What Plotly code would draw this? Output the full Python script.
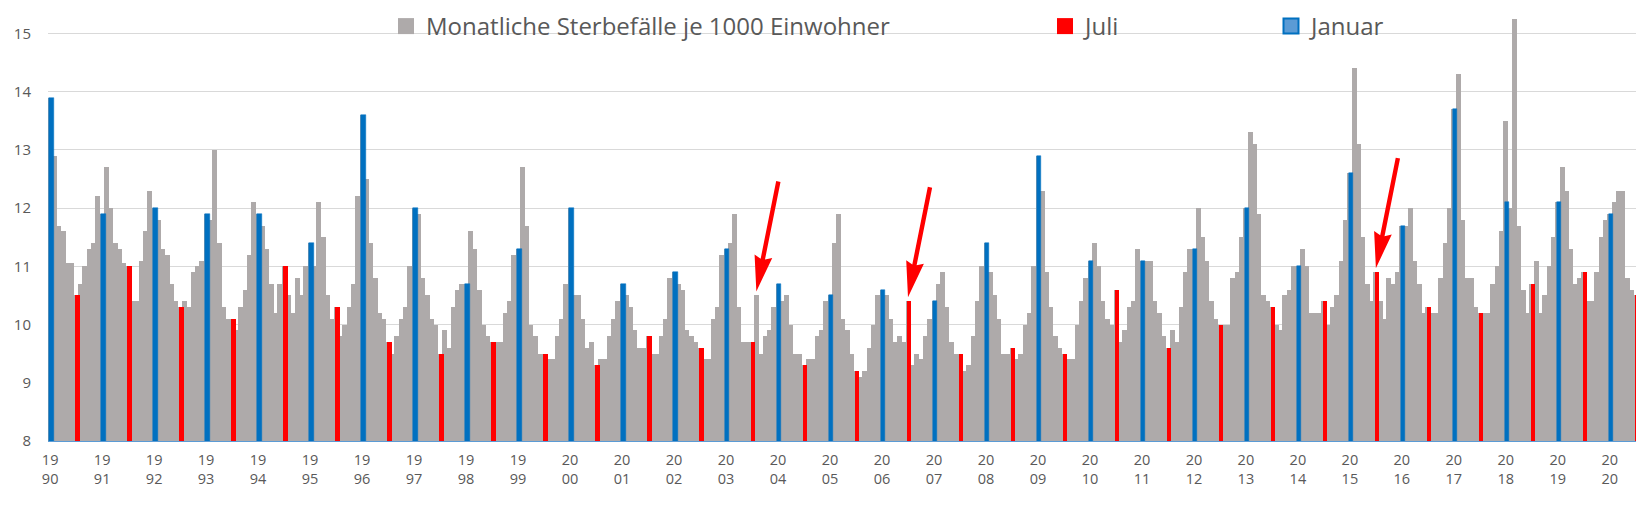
import math
import plotly.graph_objects as go

# ---------------- data (monthly deaths per 1000 inhabitants, Jan..Dec) ----------------
r1990 = [13.9, 12.9, 11.7, 11.6, 11.05, 11.05, 10.5, 10.7, 11.0, 11.3, 11.4, 12.2]
r1991 = [11.9, 12.7, 12.0, 11.4, 11.3, 11.05, 11.0, 10.4, 10.4, 11.1, 11.6, 12.3]
r1992 = [12.0, 11.8, 11.3, 11.2, 10.7, 10.4, 10.3, 10.4, 10.3, 10.9, 11.0, 11.1]
r1993 = [11.9, 11.8, 13.0, 11.4, 10.3, 10.1, 10.1, 9.9, 10.3, 10.6, 11.2, 12.1]
r1994 = [11.9, 11.7, 11.3, 10.7, 10.2, 10.7, 11.0, 10.5, 10.2, 10.8, 10.5, 11.0]
r1995 = [11.4, 11.0, 12.1, 11.5, 10.5, 10.1, 10.3, 9.8, 10.0, 10.3, 10.7, 12.2]
r1996 = [13.6, 12.5, 11.4, 10.8, 10.2, 10.1, 9.7, 9.5, 9.8, 10.1, 10.3, 11.0]
r1997 = [12.0, 11.9, 10.8, 10.5, 10.1, 10.0, 9.5, 9.9, 9.6, 10.3, 10.6, 10.7]
r1998 = [10.7, 11.6, 11.3, 10.6, 10.0, 9.8, 9.7, 9.7, 9.7, 10.2, 10.4, 11.2]
r1999 = [11.3, 12.7, 11.7, 10.0, 9.8, 9.5, 9.5, 9.4, 9.4, 9.8, 10.1, 10.7]
r2000 = [12.0, 10.5, 10.5, 10.1, 9.6, 9.7, 9.3, 9.4, 9.4, 9.8, 10.1, 10.4]
r2001 = [10.7, 10.5, 10.3, 9.9, 9.6, 9.6, 9.8, 9.5, 9.5, 9.8, 10.1, 10.8]
r2002 = [10.9, 10.7, 10.6, 9.9, 9.8, 9.7, 9.6, 9.4, 9.4, 10.1, 10.3, 11.2]
r2003 = [11.3, 11.4, 11.9, 10.3, 9.7, 9.7, 9.7, 10.5, 9.5, 9.8, 9.9, 10.3]
r2004 = [10.7, 10.4, 10.5, 10.0, 9.5, 9.5, 9.3, 9.4, 9.4, 9.8, 9.9, 10.4]
r2005 = [10.5, 11.4, 11.9, 10.1, 9.9, 9.5, 9.2, 9.1, 9.2, 9.6, 10.0, 10.5]
r2006 = [10.6, 10.5, 10.1, 9.7, 9.8, 9.7, 10.4, 9.3, 9.5, 9.4, 9.8, 10.1]
r2007 = [10.4, 10.7, 10.9, 10.3, 9.7, 9.5, 9.5, 9.2, 9.3, 9.8, 10.4, 11.0]
r2008 = [11.4, 10.9, 10.5, 10.1, 9.5, 9.5, 9.6, 9.4, 9.5, 10.0, 10.2, 11.0]
r2009 = [12.9, 12.3, 10.9, 10.3, 9.8, 9.6, 9.5, 9.4, 9.4, 10.0, 10.4, 10.8]
r2010 = [11.1, 11.4, 11.0, 10.4, 10.1, 10.0, 10.6, 9.7, 9.9, 10.3, 10.4, 11.3]
r2011 = [11.1, 11.1, 11.1, 10.4, 10.2, 9.8, 9.6, 9.9, 9.7, 10.3, 10.9, 11.3]
r2012 = [11.3, 12.0, 11.5, 11.1, 10.4, 10.1, 10.0, 10.0, 10.0, 10.8, 10.9, 11.5]
r2013 = [12.0, 13.3, 13.1, 11.9, 10.5, 10.4, 10.3, 10.0, 9.9, 10.5, 10.6, 11.0]
r2014 = [11.0, 11.3, 11.0, 10.2, 10.2, 10.2, 10.4, 10.0, 10.3, 10.5, 11.1, 11.8]
r2015 = [12.6, 14.4, 13.1, 11.5, 10.7, 10.4, 10.9, 10.4, 10.1, 10.8, 10.7, 10.9]
r2016 = [11.7, 11.7, 12.0, 11.1, 10.7, 10.2, 10.3, 10.2, 10.2, 10.8, 11.4, 12.0]
r2017 = [13.7, 14.3, 11.8, 10.8, 10.8, 10.3, 10.2, 10.2, 10.2, 10.7, 11.0, 11.6]
r2018 = [13.5, 12.0, 15.25, 11.7, 10.6, 10.2, 10.7, 11.1, 10.2, 10.5, 11.0, 11.5]
r2019 = [12.1, 12.7, 12.3, 11.3, 10.7, 10.8, 10.9, 10.4, 10.4, 10.9, 11.5, 11.8]
r2020 = [11.9, 12.1, 12.3, 12.3, 10.8, 10.6, 10.5]

# highlighted series, one value per year 1990..2020
januar = [13.9, 11.9, 12.0, 11.9, 11.9, 11.4, 13.6, 12.0, 10.7, 11.3, 12.0, 10.7, 10.9, 11.3,
          10.7, 10.5, 10.6, 10.4, 11.4, 12.9, 11.1, 11.1, 11.3, 12.0, 11.0, 12.6, 11.7, 13.7,
          12.1, 12.1, 11.9]
juli = [10.5, 11.0, 10.3, 10.1, 11.0, 10.3, 9.7, 9.5, 9.7, 9.5, 9.3, 9.8, 9.6, 9.7, 9.3, 9.2,
        10.4, 9.5, 9.6, 9.5, 10.6, 9.6, 10.0, 10.3, 10.4, 10.9, 10.3, 10.2, 10.7, 10.9, 10.5]

tick_labels = ["19<br>90", "19<br>91", "19<br>92", "19<br>93", "19<br>94", "19<br>95",
               "19<br>96", "19<br>97", "19<br>98", "19<br>99", "20<br>00", "20<br>01",
               "20<br>02", "20<br>03", "20<br>04", "20<br>05", "20<br>06", "20<br>07",
               "20<br>08", "20<br>09", "20<br>10", "20<br>11", "20<br>12", "20<br>13",
               "20<br>14", "20<br>15", "20<br>16", "20<br>17", "20<br>18", "20<br>19",
               "20<br>20"]

series_names = ["Monatliche Sterbefälle je 1000 Einwohner", "Juli", "Januar"]
arrow_months = [(2003, 8), (2006, 7), (2015, 7)]   # months pointed at by red arrows
first_year = 1990

# ---------------- build ----------------
rates = (r1990 + r1991 + r1992 + r1993 + r1994 + r1995 + r1996 + r1997 + r1998 + r1999 +
         r2000 + r2001 + r2002 + r2003 + r2004 + r2005 + r2006 + r2007 + r2008 + r2009 +
         r2010 + r2011 + r2012 + r2013 + r2014 + r2015 + r2016 + r2017 + r2018 + r2019 +
         r2020)
idx = list(range(len(rates)))
jan_x = [y * 12 for y in range(len(januar))]
jul_x = [y * 12 + 6 for y in range(len(juli))]

GRAY = "#AEAAAA"
RED = "#FF0000"
BLUE = "#0070C0"
TXT = "#595959"
FONT = "Open Sans"
HL_SHIFT = 0.3     # highlighted bars sit slightly right of the grey ones

fig = go.Figure()
fig.add_trace(go.Bar(x=idx, y=rates, width=1.12, marker=dict(color=GRAY, line=dict(width=0)),
                     showlegend=False, hoverinfo="x+y"))
fig.add_trace(go.Bar(x=jul_x, y=juli, width=1.0, offset=-0.5 + HL_SHIFT,
                     marker=dict(color=RED, line=dict(width=0)), showlegend=False))
fig.add_trace(go.Bar(x=jan_x, y=januar, width=1.0, offset=-0.5 + HL_SHIFT,
                     marker=dict(color=BLUE, line=dict(width=0.5, color=BLUE)), showlegend=False))

# legend entries (square swatches)
fig.add_trace(go.Scatter(x=[None], y=[None], mode="markers", name=series_names[0], legend="legend",
                         marker=dict(symbol="square", size=16, color=GRAY)))
fig.add_trace(go.Scatter(x=[None], y=[None], mode="markers", name=series_names[1], legend="legend2",
                         marker=dict(symbol="square", size=16, color=RED)))
fig.add_trace(go.Scatter(x=[None], y=[None], mode="markers", name=series_names[2], legend="legend3",
                         marker=dict(symbol="square", size=15, color="#5B9BD5",
                                     line=dict(color=BLUE, width=2))))

# page has an 8px body margin, so the figure is 8px smaller and everything shifted
W, H = 1636, 497
legend_common = dict(xref="container", yref="container", xanchor="left", yanchor="middle",
                     y=1 - 18.5 / H, bgcolor="rgba(0,0,0,0)", borderwidth=0,
                     font=dict(family=FONT, size=24, color=TXT), itemclick=False, itemdoubleclick=False)

# red arrows (pixel-sized paths anchored at the bar tops)
shapes = []
dx, dy = 22.0, 110.0
L = math.hypot(dx, dy)
ux, uy = dx / L, dy / L
nx, ny = uy, -ux
head_len, head_half, shaft_half, lift = 36.0, 9.0, 2.2, 4.0


def pt(a, b):
    return (a * ux + b * nx, lift + a * uy + b * ny)


for (yr, mo) in arrow_months:
    i = (yr - first_year) * 12 + (mo - 1)
    pts = [pt(0, 0), pt(head_len, head_half), pt(head_len - 3, shaft_half), pt(L, shaft_half),
           pt(L, -shaft_half), pt(head_len - 3, -shaft_half), pt(head_len, -head_half)]
    path = "M" + " L".join(f"{px:.2f},{py:.2f}" for px, py in pts) + " Z"
    shapes.append(dict(type="path", xref="x", yref="y", xsizemode="pixel", ysizemode="pixel",
                       xanchor=i, yanchor=rates[i], path=path, fillcolor=RED,
                       line=dict(width=0), layer="above"))

fig.update_layout(
    width=W, height=H,
    margin=dict(l=40, r=6, t=8, b=64, autoexpand=False),
    paper_bgcolor="white", plot_bgcolor="white",
    barmode="overlay", bargap=0,
    font=dict(family=FONT, color=TXT, size=15),
    legend=dict(legend_common, x=378 / W),
    legend2=dict(legend_common, x=1037 / W),
    legend3=dict(legend_common, x=1263 / W),
    shapes=shapes,
    xaxis=dict(range=[-0.5, len(rates) - 0.5], tickmode="array", tickvals=jan_x,
               ticktext=tick_labels, tickangle=0, showgrid=False, zeroline=False,
               showline=True, linecolor="#5B9BD5", linewidth=1,
               ticks="outside", ticklen=6, tickcolor="rgba(0,0,0,0)",
               tickfont=dict(family=FONT, size=14.5, color=TXT)),
    yaxis=dict(range=[8, 15.3], tick0=8, dtick=1, showgrid=True, gridcolor="#D9D9D9",
               gridwidth=1, zeroline=False, showline=False,
               ticklabelstandoff=16,
               tickfont=dict(family=FONT, size=15, color=TXT)),
)

fig.write_html("out.html")
